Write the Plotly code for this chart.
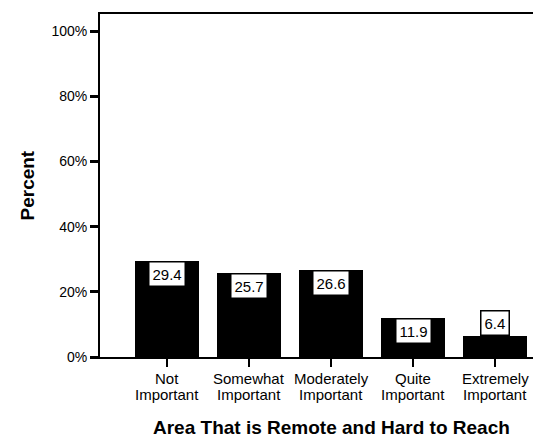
import plotly.graph_objects as go

categories = ["Not Important", "Somewhat Important", "Moderately Important",
              "Quite Important", "Extremely Important"]
percents = [29.4, 25.7, 26.6, 11.9, 6.4]
y_ticks = [0, 20, 40, 60, 80, 100]
y_tick_labels = ["0%", "20%", "40%", "60%", "80%", "100%"]
x_title = "Area That is Remote and Hard to Reach"
y_title = "Percent"

FONT = "Liberation Sans, Arial, sans-serif"
xs = list(range(len(categories)))

fig = go.Figure()
fig.add_trace(go.Bar(
    x=xs, y=percents, width=0.77,
    marker=dict(color="black", line=dict(color="black", width=0)),
    hoverinfo="skip",
))

annotations = []
for x, v in zip(xs, percents):
    inside = v >= 10
    annotations.append(dict(
        x=x, y=v, xref="x", yref="y",
        text=f"{v:.1f}", showarrow=False,
        xanchor="center", yanchor="top" if inside else "bottom",
        font=dict(family=FONT, size=15, color="black"),
        bgcolor="white", bordercolor="black", borderwidth=1.5, borderpad=3,
    ))

# two-line category labels with tight line spacing
for x, cat in zip(xs, categories):
    first, second = cat.split(" ", 1)
    for line, shift in ((first, -21), (second, -37)):
        annotations.append(dict(
            x=x, y=0, xref="x", yref="paper", text=line, showarrow=False,
            xanchor="center", yanchor="middle", yshift=shift,
            font=dict(family=FONT, size=15, color="black"),
        ))

annotations.append(dict(
    x=2, y=0, xref="x", yref="paper", text=f"<b>{x_title}</b>", showarrow=False,
    xanchor="center", yanchor="middle", yshift=-70,
    font=dict(family=FONT, size=19, color="black"),
))
annotations.append(dict(
    x=0, y=0.5, xref="paper", yref="paper", text=f"<b>{y_title}</b>", showarrow=False,
    xanchor="center", yanchor="middle", xshift=-73, textangle=-90,
    font=dict(family=FONT, size=19, color="black"),
))

fig.update_layout(
    width=541, height=439,
    margin=dict(l=92, r=8, t=4, b=90),
    paper_bgcolor="white", plot_bgcolor="white",
    showlegend=False,
    annotations=annotations,
    bargap=0,
    xaxis=dict(
        range=[-0.817, 4.561], tickmode="array", tickvals=xs,
        showticklabels=False,
        showgrid=False, zeroline=False,
        showline=True, linecolor="black", linewidth=2, mirror=True,
        ticks="outside", ticklen=8, tickwidth=2, tickcolor="black",
    ),
    yaxis=dict(
        range=[0, 105.3], tickmode="array", tickvals=y_ticks, ticktext=y_tick_labels,
        showgrid=False, zeroline=False,
        showline=True, linecolor="black", linewidth=2,
        ticks="outside", ticklen=8, tickwidth=2.5, tickcolor="black",
        tickfont=dict(family=FONT, size=14, color="black"),
    ),
)

fig.write_html("out.html")
